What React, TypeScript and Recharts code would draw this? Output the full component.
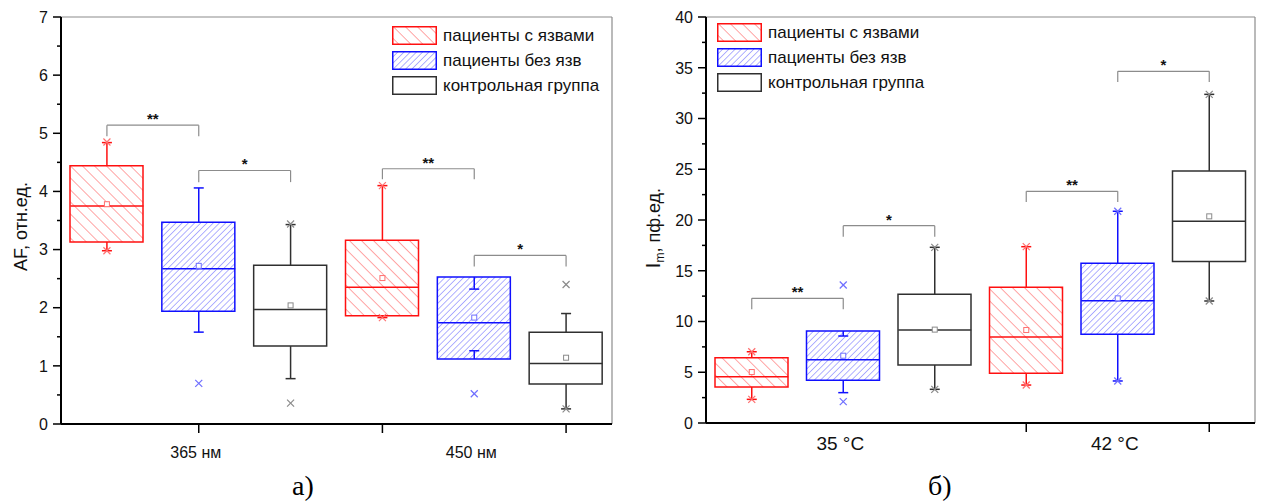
import React from "react";
import { ComposedChart, Bar, Cell, Scatter, XAxis, YAxis, ReferenceLine, Legend, Label } from "recharts";

const FONT = "'Liberation Sans', Arial, sans-serif";

// groups and box positions (shared by both panels)
const groupNames = ["пациенты с язвами", "пациенты без язв", "контрольная группа"];
const boxPos = [1, 2, 3, 4, 5, 6];
const boxGroup = [0, 1, 2, 0, 1, 2];

// а) AF, отн.ед.
const afQ1 = [3.13, 1.94, 1.34, 1.86, 1.12, 0.69];
const afQ3 = [4.44, 3.47, 2.73, 3.16, 2.53, 1.58];
const afMedian = [3.75, 2.67, 1.97, 2.35, 1.74, 1.04];
const afMean = [3.78, 2.72, 2.04, 2.51, 1.83, 1.14];
const afWhiskerLo = [2.98, 1.58, 0.78, 1.83, 1.26, 0.26];
const afWhiskerHi = [4.84, 4.06, 3.43, 4.1, 2.32, 1.9];
const afMarkX = [1, 1, 2, 3, 3, 4, 4, 5, 6, 6];
const afMarkY = [4.85, 2.98, 0.7, 3.44, 0.36, 4.1, 1.83, 0.52, 2.4, 0.26];
const afBrFrom = [1, 2, 4, 5];
const afBrTo = [2, 3, 5, 6];
const afBrTop = [5.14, 4.36, 4.39, 2.9];
const afBrDrop = [4.95, 4.16, 4.21, 2.71];
const afBrText = ["**", "*", "**", "*"];
const afYTicks = [0, 0.5, 1, 1.5, 2, 2.5, 3, 3.5, 4, 4.5, 5, 5.5, 6, 6.5, 7];
const afXTickMarks = [2, 4, 6];
const afXLabelPos = [2, 5];
const afXLabels = ["365 нм", "450 нм"];

// б) Im, пф.ед.
const imQ1 = [3.55, 4.2, 5.71, 4.9, 8.74, 15.9];
const imQ3 = [6.43, 9.06, 12.68, 13.37, 15.73, 24.83];
const imMedian = [4.56, 6.24, 9.16, 8.47, 12.05, 19.87];
const imMean = [5.02, 6.63, 9.2, 9.16, 12.28, 20.36];
const imWhiskerLo = [2.33, 2.99, 3.32, 3.74, 4.14, 12.02];
const imWhiskerHi = [7.02, 8.57, 17.31, 17.37, 20.86, 32.38];
const imMarkX = [1, 1, 2, 2, 3, 3, 4, 4, 5, 5, 6, 6];
const imMarkY = [7.02, 2.33, 13.6, 2.1, 17.31, 3.32, 17.37, 3.74, 20.86, 4.14, 32.38, 12.02];
const imBrFrom = [1, 2, 4, 5];
const imBrTo = [2, 3, 5, 6];
const imBrTop = [12.28, 19.44, 22.83, 34.65];
const imBrDrop = [11.2, 18.35, 21.77, 33.6];
const imBrText = ["**", "*", "**", "*"];
const imYTicks = [0, 2.5, 5, 7.5, 10, 12.5, 15, 17.5, 20, 22.5, 25, 27.5, 30, 32.5, 35, 37.5, 40];
const imXTickMarks = [4, 6];
const imXLabelPos = [2, 5];
const imXLabels = ["35 °C", "42 °C"];

const strokeCol = ["#ff1010", "#1010ff", "#303030"];
const meanCol = ["#ff7070", "#7070ff", "#8a8a8a"];
const BOX_W = 73;

function buildRows(q1: number[], q3: number[], med: number[], mean: number[], lo: number[], hi: number[]) {
  return boxPos.map((x, i) => ({
    x,
    grp: boxGroup[i],
    box: [q1[i], q3[i]],
    q1: q1[i],
    q3: q3[i],
    med: med[i],
    mean: mean[i],
    lo: lo[i],
    hi: hi[i],
  }));
}

function fillFor(prefix: string, g: number) {
  if (g === 0) return `url(#${prefix}-red)`;
  if (g === 1) return `url(#${prefix}-blue)`;
  return "#ffffff";
}

const Median = (p: any) => (
  <line x1={p.cx - BOX_W / 2} x2={p.cx + BOX_W / 2} y1={p.cy} y2={p.cy} stroke={strokeCol[p.payload.grp]} strokeWidth={1.5} />
);
const MeanSq = (p: any) => (
  <rect x={p.cx - 2.5} y={p.cy - 2.5} width={5} height={5} fill="#fff" stroke={meanCol[p.payload.grp]} strokeWidth={1} />
);
const Cap = (p: any) => (
  <line x1={p.cx - 5} x2={p.cx + 5} y1={p.cy} y2={p.cy} stroke={strokeCol[p.payload.grp]} strokeWidth={1.5} />
);
const Cross = (p: any) => (
  <g stroke={meanCol[p.payload.grp]} strokeWidth={1.2}>
    <line x1={p.cx - 3.5} x2={p.cx + 3.5} y1={p.cy - 3.5} y2={p.cy + 3.5} />
    <line x1={p.cx - 3.5} x2={p.cx + 3.5} y1={p.cy + 3.5} y2={p.cy - 3.5} />
  </g>
);

function YTick(props: any) {
  const { x, y, payload, step } = props;
  const v = payload.value;
  const major = Math.abs(v / step - Math.round(v / step)) < 1e-6;
  return (
    <g>
      <line x1={x - (major ? 8 : 4)} x2={x} y1={y} y2={y} stroke="#000" strokeWidth={1.5} />
      {major && (
        <text x={x - 13} y={y} dy="0.36em" textAnchor="end" fontSize={16} fontFamily={FONT} fill="#111">
          {v}
        </text>
      )}
    </g>
  );
}

function XTick(props: any) {
  const { x, y, payload, marks, labelPos, labels, fontSize, labelDy } = props;
  const v = payload.value;
  const li = labelPos.indexOf(v);
  return (
    <g>
      {marks.includes(v) && <line x1={x} x2={x} y1={y} y2={y + 9} stroke="#000" strokeWidth={1.5} />}
      {li >= 0 && (
        <text x={x - 3} y={y + labelDy} textAnchor="middle" fontSize={fontSize} fontFamily={FONT} fill="#111">
          {labels[li]}
        </text>
      )}
    </g>
  );
}

function LegendBox({ prefix }: { prefix: string }) {
  return (
    <div style={{ fontFamily: FONT, fontSize: 17, color: "#111" }}>
      {groupNames.map((n, i) => (
        <div key={n} style={{ display: "flex", alignItems: "center", height: 25 }}>
          <svg width={45} height={19} style={{ display: "block" }}>
            <rect x={0.75} y={0.75} width={43.5} height={17.5} fill={fillFor(prefix, i)} stroke={strokeCol[i]} strokeWidth={1.5} />
          </svg>
          <span style={{ marginLeft: 6, whiteSpace: "nowrap" }}>{n}</span>
        </div>
      ))}
    </div>
  );
}

type PanelProps = {
  prefix: string;
  left: number;
  width: number;
  margin: { top: number; right: number; bottom: number; left: number };
  yMax: number;
  yTicks: number[];
  yStep: number;
  rows: ReturnType<typeof buildRows>;
  markX: number[];
  markY: number[];
  brFrom: number[];
  brTo: number[];
  brTop: number[];
  brDrop: number[];
  brText: string[];
  xMarks: number[];
  xLabelPos: number[];
  xLabels: string[];
  xFont: number;
  xDy: number;
  yLabel: (vb: any) => React.ReactElement;
  legendPos: { left: number; top: number };
};

function BoxPanel(p: PanelProps) {
  const marks = p.markX.map((x, i) => ({ x, y: p.markY[i], grp: boxGroup[x - 1] }));
  const xTicks = Array.from(new Set([...p.xMarks, ...p.xLabelPos])).sort((a, b) => a - b);
  return (
    <div style={{ position: "absolute", left: p.left, top: 0 }}>
      <ComposedChart width={p.width} height={502} data={p.rows} margin={p.margin}>
        <defs>
          <pattern id={`${p.prefix}-red`} patternUnits="userSpaceOnUse" width={8.5} height={8.5} patternTransform="rotate(-45)">
            <line x1={0} y1={0} x2={0} y2={8.5} stroke="#ff4a4a" strokeWidth={1} />
          </pattern>
          <pattern id={`${p.prefix}-blue`} patternUnits="userSpaceOnUse" width={4.4} height={4.4} patternTransform="rotate(45)">
            <line x1={0} y1={0} x2={0} y2={4.4} stroke="#5050ff" strokeWidth={0.9} />
          </pattern>
        </defs>
        <XAxis
          dataKey="x"
          type="number"
          domain={[0.5, 6.5]}
          allowDataOverflow
          ticks={xTicks}
          interval={0}
          height={40}
          tickSize={0}
          tickMargin={0}
          tickLine={false}
          axisLine={{ stroke: "#000", strokeWidth: 2 }}
          tick={<XTick marks={p.xMarks} labelPos={p.xLabelPos} labels={p.xLabels} fontSize={p.xFont} labelDy={p.xDy} />}
        />
        <YAxis
          type="number"
          domain={[0, p.yMax]}
          allowDataOverflow
          ticks={p.yTicks}
          interval={0}
          width={45}
          tickSize={0}
          tickMargin={0}
          tickLine={false}
          axisLine={{ stroke: "#000", strokeWidth: 2 }}
          tick={<YTick step={p.yStep} />}
        >
          <Label content={(lp: any) => p.yLabel(lp.viewBox)} />
        </YAxis>
        <ReferenceLine y={p.yMax} stroke="#8c8c8c" strokeWidth={1.2} />
        <ReferenceLine x={6.5} stroke="#8c8c8c" strokeWidth={1.2} />
        {p.rows.map((r) => (
          <ReferenceLine
            key={`wu${r.x}`}
            segment={[{ x: r.x, y: r.q3 }, { x: r.x, y: r.hi }]}
            stroke={strokeCol[r.grp]}
            strokeWidth={1.5}
          />
        ))}
        {p.rows.map((r) => (
          <ReferenceLine
            key={`wl${r.x}`}
            segment={[{ x: r.x, y: r.lo }, { x: r.x, y: r.q1 }]}
            stroke={strokeCol[r.grp]}
            strokeWidth={1.5}
          />
        ))}
        {p.brFrom.map((f, i) => (
          <ReferenceLine key={`bl${i}`} segment={[{ x: f, y: p.brDrop[i] }, { x: f, y: p.brTop[i] }]} stroke="#8c8c8c" strokeWidth={1.2} />
        ))}
        {p.brTo.map((t, i) => (
          <ReferenceLine key={`br${i}`} segment={[{ x: t, y: p.brDrop[i] }, { x: t, y: p.brTop[i] }]} stroke="#8c8c8c" strokeWidth={1.2} />
        ))}
        {p.brFrom.map((f, i) => (
          <ReferenceLine
            key={`bt${i}`}
            segment={[{ x: f, y: p.brTop[i] }, { x: p.brTo[i], y: p.brTop[i] }]}
            stroke="#8c8c8c"
            strokeWidth={1.2}
            label={{ value: p.brText[i], position: "top", offset: 1, fill: "#111", fontSize: 15, fontWeight: "bold", fontFamily: FONT }}
          />
        ))}
        <Bar dataKey="box" barSize={BOX_W} isAnimationActive={false} strokeWidth={1.5}>
          {p.rows.map((r) => (
            <Cell key={r.x} fill={fillFor(p.prefix, r.grp)} stroke={strokeCol[r.grp]} />
          ))}
        </Bar>
        <Scatter dataKey="med" shape={Median} isAnimationActive={false} />
        <Scatter dataKey="mean" shape={MeanSq} isAnimationActive={false} />
        <Scatter dataKey="hi" shape={Cap} isAnimationActive={false} />
        <Scatter dataKey="lo" shape={Cap} isAnimationActive={false} />
        <Scatter data={marks} dataKey="y" shape={Cross} isAnimationActive={false} />
        <Legend
          layout="vertical"
          align="center"
          verticalAlign="middle"
          wrapperStyle={{ left: p.legendPos.left, top: p.legendPos.top, width: "auto" }}
          content={() => <LegendBox prefix={p.prefix} />}
        />
      </ComposedChart>
    </div>
  );
}

const afRows = buildRows(afQ1, afQ3, afMedian, afMean, afWhiskerLo, afWhiskerHi);
const imRows = buildRows(imQ1, imQ3, imMedian, imMean, imWhiskerLo, imWhiskerHi);

const afLabel = (vb: any) => {
  const x = vb.x + 11;
  const y = vb.y + vb.height / 2 + 6;
  return (
    <text x={x} y={y} transform={`rotate(-90 ${x} ${y})`} textAnchor="middle" fontSize={18} fontFamily={FONT} fill="#111">
      AF, отн.ед.
    </text>
  );
};

const imLabel = (vb: any) => {
  const x = vb.x - 1;
  const y = vb.y + vb.height / 2 + 8;
  return (
    <text x={x} y={y} transform={`rotate(-90 ${x} ${y})`} textAnchor="middle" fontSize={18} fontFamily={FONT} fill="#111">
      <tspan fontSize={20}>I</tspan>
      <tspan fontSize={12} dy={4}>m</tspan>
      <tspan dy={-4}>, пф.ед.</tspan>
    </text>
  );
};

export default function App() {
  return (
    <div style={{ position: "absolute", left: 0, top: 0, width: 1263, height: 502, background: "#fff", overflow: "hidden" }}>
      <BoxPanel
        prefix="af"
        left={0}
        width={630}
        margin={{ top: 17, right: 18, bottom: 38, left: 16 }}
        yMax={7}
        yTicks={afYTicks}
        yStep={1}
        rows={afRows}
        markX={afMarkX}
        markY={afMarkY}
        brFrom={afBrFrom}
        brTo={afBrTo}
        brTop={afBrTop}
        brDrop={afBrDrop}
        brText={afBrText}
        xMarks={afXTickMarks}
        xLabelPos={afXLabelPos}
        xLabels={afXLabels}
        xFont={16}
        xDy={34}
        yLabel={afLabel}
        legendPos={{ left: 392, top: 23 }}
      />
      <BoxPanel
        prefix="im"
        left={640}
        width={623}
        margin={{ top: 17, right: 8, bottom: 39, left: 21 }}
        yMax={40}
        yTicks={imYTicks}
        yStep={5}
        rows={imRows}
        markX={imMarkX}
        markY={imMarkY}
        brFrom={imBrFrom}
        brTo={imBrTo}
        brTop={imBrTop}
        brDrop={imBrDrop}
        brText={imBrText}
        xMarks={imXTickMarks}
        xLabelPos={imXLabelPos}
        xLabels={imXLabels}
        xFont={19}
        xDy={27}
        yLabel={imLabel}
        legendPos={{ left: 77, top: 20 }}
      />
      <div style={{ position: "absolute", left: 292, top: 470, fontFamily: "'Liberation Serif', 'Times New Roman', serif", fontSize: 28, color: "#000" }}>
        а)
      </div>
      <div style={{ position: "absolute", left: 928, top: 470, fontFamily: "'Liberation Serif', 'Times New Roman', serif", fontSize: 28, color: "#000" }}>
        б)
      </div>
    </div>
  );
}
